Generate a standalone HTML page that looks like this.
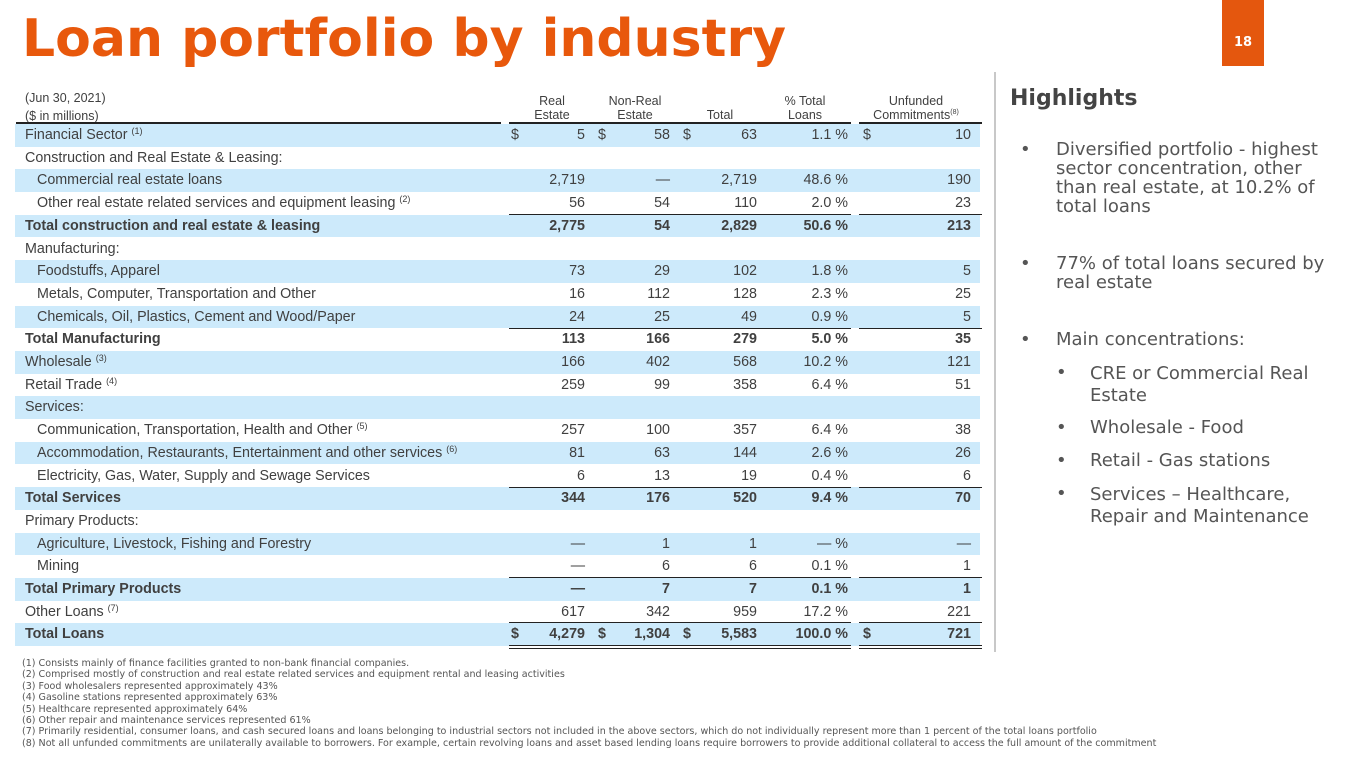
<!DOCTYPE html>
<html><head><meta charset="utf-8"><style>
body{margin:0;width:1365px;height:768px;background:#fff;position:relative;overflow:hidden;font-family:"Liberation Sans",sans-serif;color:#404040}
.a{position:absolute}
h1{position:absolute;left:22px;top:9px;margin:0;font:bold 52px "DejaVu Sans",sans-serif;color:#e8580c;letter-spacing:0px}
.pg{position:absolute;left:1222px;top:0;width:42px;height:66px;background:#e4570e;color:#fff;font:bold 13px "DejaVu Sans",sans-serif;text-align:center;line-height:86px}
.r{position:absolute;left:15px;width:965px;height:22.7px;font-size:14.3px;line-height:22.7px;color:#404040}
.b{background:#cdeafb}
.r span{position:absolute;top:0}
.l{left:10px}.i{left:22px}
.c1,.c2,.c3,.c4,.c5{text-align:right}
.c1{right:395px}.c2{right:310px}.c3{right:223px}.c4{right:132px}.c5{right:9px}
.d1{left:496px}.d2{left:583px}.d3{left:668px}.d5{left:848px}
.t{font-weight:bold}
sup{font-size:9px;vertical-align:5px;line-height:0}
.ln{position:absolute;height:1px;background:#222}
.hd{position:absolute;font-size:12.5px;line-height:14px;text-align:center;color:#404040}
.ft{position:absolute;left:22px;top:658px;font:9.55px/11.4px "DejaVu Sans",sans-serif;color:#555}
.hl{position:absolute;left:1010px;top:86px;font:bold 22px "DejaVu Sans",sans-serif;color:#444}
.bl{position:absolute;font:18px/19px "DejaVu Sans",sans-serif;color:#555}
</style></head><body>
<h1>Loan portfolio by industry</h1>
<div class="pg">18</div>
<div class="a" style="left:994px;top:72px;width:2px;height:580px;background:#c8c8c8"></div>

<div class="hd" style="left:25px;top:89px;text-align:left;line-height:18px">(Jun 30, 2021)<br>($ in millions)</div>
<div class="hd" style="left:527px;top:94px;width:50px">Real<br>Estate</div>
<div class="hd" style="left:600px;top:94px;width:70px">Non-Real<br>Estate</div>
<div class="hd" style="left:700px;top:108px;width:40px">Total</div>
<div class="hd" style="left:775px;top:94px;width:60px">% Total<br>Loans</div>
<div class="hd" style="left:866px;top:94px;width:100px">Unfunded<br>Commitments<sup style="font-size:7px">(8)</sup></div>
<div class="ln" style="left:16px;width:485px;top:122px;height:2px"></div>
<div class="ln" style="left:509px;width:342px;top:122px;height:2px"></div>
<div class="ln" style="left:859px;width:123px;top:122px;height:2px"></div>

<div class="r b" style="top:124px"><span class="l">Financial Sector <sup>(1)</sup></span><span class="d1">$</span><span class="c1">5</span><span class="d2">$</span><span class="c2">58</span><span class="d3">$</span><span class="c3">63</span><span class="c4">1.1 %</span><span class="d5">$</span><span class="c5">10</span></div>
<div class="r" style="top:146.7px"><span class="l">Construction and Real Estate &amp; Leasing:</span></div>
<div class="r b" style="top:169.4px"><span class="i">Commercial real estate loans</span><span class="c1">2,719</span><span class="c2">—</span><span class="c3">2,719</span><span class="c4">48.6 %</span><span class="c5">190</span></div>
<div class="r" style="top:192.1px"><span class="i">Other real estate related services and equipment leasing <sup>(2)</sup></span><span class="c1">56</span><span class="c2">54</span><span class="c3">110</span><span class="c4">2.0 %</span><span class="c5">23</span></div>
<div class="r b t" style="top:214.8px"><span class="l">Total construction and real estate &amp; leasing</span><span class="c1">2,775</span><span class="c2">54</span><span class="c3">2,829</span><span class="c4">50.6 %</span><span class="c5">213</span></div>
<div class="r" style="top:237.5px"><span class="l">Manufacturing:</span></div>
<div class="r b" style="top:260.2px"><span class="i">Foodstuffs, Apparel</span><span class="c1">73</span><span class="c2">29</span><span class="c3">102</span><span class="c4">1.8 %</span><span class="c5">5</span></div>
<div class="r" style="top:282.9px"><span class="i">Metals, Computer, Transportation and Other</span><span class="c1">16</span><span class="c2">112</span><span class="c3">128</span><span class="c4">2.3 %</span><span class="c5">25</span></div>
<div class="r b" style="top:305.6px"><span class="i">Chemicals, Oil, Plastics, Cement and Wood/Paper</span><span class="c1">24</span><span class="c2">25</span><span class="c3">49</span><span class="c4">0.9 %</span><span class="c5">5</span></div>
<div class="r t" style="top:328.3px"><span class="l">Total Manufacturing</span><span class="c1">113</span><span class="c2">166</span><span class="c3">279</span><span class="c4">5.0 %</span><span class="c5">35</span></div>
<div class="r b" style="top:351px"><span class="l">Wholesale <sup>(3)</sup></span><span class="c1">166</span><span class="c2">402</span><span class="c3">568</span><span class="c4">10.2 %</span><span class="c5">121</span></div>
<div class="r" style="top:373.7px"><span class="l">Retail Trade <sup>(4)</sup></span><span class="c1">259</span><span class="c2">99</span><span class="c3">358</span><span class="c4">6.4 %</span><span class="c5">51</span></div>
<div class="r b" style="top:396.4px"><span class="l">Services:</span></div>
<div class="r" style="top:419.1px"><span class="i">Communication, Transportation, Health and Other <sup>(5)</sup></span><span class="c1">257</span><span class="c2">100</span><span class="c3">357</span><span class="c4">6.4 %</span><span class="c5">38</span></div>
<div class="r b" style="top:441.8px"><span class="i">Accommodation, Restaurants, Entertainment and other services <sup>(6)</sup></span><span class="c1">81</span><span class="c2">63</span><span class="c3">144</span><span class="c4">2.6 %</span><span class="c5">26</span></div>
<div class="r" style="top:464.5px"><span class="i">Electricity, Gas, Water, Supply and Sewage Services</span><span class="c1">6</span><span class="c2">13</span><span class="c3">19</span><span class="c4">0.4 %</span><span class="c5">6</span></div>
<div class="r b t" style="top:487.2px"><span class="l">Total Services</span><span class="c1">344</span><span class="c2">176</span><span class="c3">520</span><span class="c4">9.4 %</span><span class="c5">70</span></div>
<div class="r" style="top:509.9px"><span class="l">Primary Products:</span></div>
<div class="r b" style="top:532.6px"><span class="i">Agriculture, Livestock, Fishing and Forestry</span><span class="c1">—</span><span class="c2">1</span><span class="c3">1</span><span class="c4">— %</span><span class="c5">—</span></div>
<div class="r" style="top:555.3px"><span class="i">Mining</span><span class="c1">—</span><span class="c2">6</span><span class="c3">6</span><span class="c4">0.1 %</span><span class="c5">1</span></div>
<div class="r b t" style="top:578px"><span class="l">Total Primary Products</span><span class="c1">—</span><span class="c2">7</span><span class="c3">7</span><span class="c4">0.1 %</span><span class="c5">1</span></div>
<div class="r" style="top:600.7px"><span class="l">Other Loans <sup>(7)</sup></span><span class="c1">617</span><span class="c2">342</span><span class="c3">959</span><span class="c4">17.2 %</span><span class="c5">221</span></div>
<div class="r b t" style="top:623.4px"><span class="l">Total Loans</span><span class="d1">$</span><span class="c1">4,279</span><span class="d2">$</span><span class="c2">1,304</span><span class="d3">$</span><span class="c3">5,583</span><span class="c4">100.0 %</span><span class="d5">$</span><span class="c5">721</span></div>

<div class="ln" style="left:509px;width:342px;top:214px"></div><div class="ln" style="left:859px;width:123px;top:214px"></div>
<div class="ln" style="left:509px;width:342px;top:328px"></div><div class="ln" style="left:859px;width:123px;top:328px"></div>
<div class="ln" style="left:509px;width:342px;top:487px"></div><div class="ln" style="left:859px;width:123px;top:487px"></div>
<div class="ln" style="left:509px;width:342px;top:577px"></div><div class="ln" style="left:859px;width:123px;top:577px"></div>
<div class="ln" style="left:509px;width:342px;top:622px"></div><div class="ln" style="left:859px;width:123px;top:622px"></div>
<div class="ln" style="left:509px;width:342px;top:645px"></div><div class="ln" style="left:859px;width:123px;top:645px"></div>
<div class="ln" style="left:509px;width:342px;top:648px"></div><div class="ln" style="left:859px;width:123px;top:648px"></div>

<div class="ft">(1) Consists mainly of finance facilities granted to non-bank financial companies.<br>
(2) Comprised mostly of construction and real estate related services and equipment rental and leasing activities<br>
(3) Food wholesalers represented approximately 43%<br>
(4) Gasoline stations represented approximately 63%<br>
(5) Healthcare represented approximately 64%<br>
(6) Other repair and maintenance services represented 61%<br>
(7) Primarily residential, consumer loans, and cash secured loans and loans belonging to industrial sectors not included in the above sectors, which do not individually represent more than 1 percent of the total loans portfolio<br>
(8) Not all unfunded commitments are unilaterally available to borrowers. For example, certain revolving loans and asset based lending loans require borrowers to provide additional collateral to access the full amount of the commitment</div>

<div class="hl">Highlights</div>
<div class="bl" style="left:1020px;top:140px">•</div>
<div class="bl" style="left:1056px;top:140px;width:285px">Diversified portfolio - highest sector concentration, other than real estate, at 10.2% of total loans</div>
<div class="bl" style="left:1020px;top:254px">•</div>
<div class="bl" style="left:1056px;top:254px;width:290px">77% of total loans secured by real estate</div>
<div class="bl" style="left:1020px;top:330px">•</div>
<div class="bl" style="left:1056px;top:330px">Main concentrations:</div>
<div class="bl" style="left:1056px;top:363px">•</div>
<div class="bl" style="left:1090px;top:363px;line-height:22px">CRE or Commercial Real<br>Estate</div>
<div class="bl" style="left:1056px;top:418px">•</div>
<div class="bl" style="left:1090px;top:418px">Wholesale - Food</div>
<div class="bl" style="left:1056px;top:451px">•</div>
<div class="bl" style="left:1090px;top:451px">Retail - Gas stations</div>
<div class="bl" style="left:1056px;top:484px">•</div>
<div class="bl" style="left:1090px;top:484px;line-height:22px">Services – Healthcare,<br>Repair and Maintenance</div>
</body></html>
